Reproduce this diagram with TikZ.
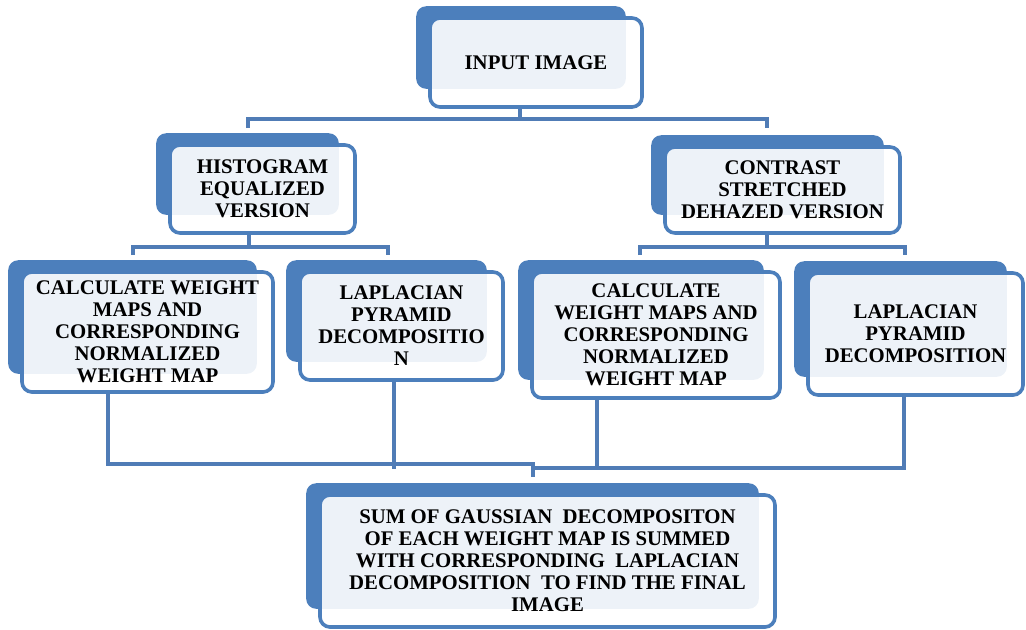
\documentclass[tikz,border=0pt]{standalone}
\usepackage{fontspec}
\setmainfont{Liberation Serif}
\usepackage{tikz}
\pgfdeclarelayer{back}
\pgfsetlayers{back,main}
\definecolor{panelblue}{RGB}{76,127,188}
\definecolor{linkblue}{RGB}{80,124,182}
\tikzset{
    box/.style={draw=panelblue, line width=1.8pt, rounded corners=5pt,
        fill=white, fill opacity=0.9, text opacity=1, inner sep=0pt,
        align=center, font=\fontsize{10.4}{11}\selectfont\bfseries},
    link/.style={draw=linkblue, line width=2pt}
}

\begin{document}
\begin{tikzpicture}[x=0.5pt,y=-0.5pt]
    \useasboundingbox (0,0) rectangle (1026,629);

    \node[box, minimum width=106pt, minimum height=44.5pt] (in) at (536,62.5) {INPUT IMAGE};
    \node[box, minimum width=92.5pt, minimum height=44pt] (he) at (262.5,189)
        {HISTOGRAM\\EQUALIZED\\VERSION};
    \node[box, minimum width=117.5pt, minimum height=43pt] (cs) at (782.5,190)
        {CONTRAST\\STRETCHED\\DEHAZED VERSION};
    \node[box, minimum width=125.5pt, minimum height=60pt] (cl) at (147.5,332)
        {CALCULATE WEIGHT\\MAPS AND\\CORRESPONDING\\NORMALIZED\\WEIGHT MAP};
    \node[box, minimum width=101.5pt, minimum height=54pt] (ll) at (401.5,326)
        {LAPLACIAN\\PYRAMID\\DECOMPOSITIO\\N};
    \node[box, minimum width=124pt, minimum height=63pt] (cr) at (656,335)
        {CALCULATE\\WEIGHT MAPS AND\\CORRESPONDING\\NORMALIZED\\WEIGHT MAP};
    \node[box, minimum width=107.5pt, minimum height=61pt] (lr) at (915.5,334)
        {LAPLACIAN\\PYRAMID\\DECOMPOSITION};
    \node[box, minimum width=227.5pt, minimum height=66pt] (sum) at (547.5,561)
        {SUM OF GAUSSIAN~ DECOMPOSITON\\OF EACH WEIGHT MAP IS SUMMED\\WITH CORRESPONDING~ LAPLACIAN\\DECOMPOSITION~ TO FIND THE FINAL\\IMAGE};

    % solid panels behind each box
    \begin{pgfonlayer}{back}
        \foreach \n in {in,he,cs,cl,ll,cr,lr,sum}
            \fill[panelblue, rounded corners=5pt]
                ([shift={(-12,-10)}]\n.north west) rectangle ([shift={(-18,-20)}]\n.south east);
    \end{pgfonlayer}

    % stub ends
    \coordinate (he-in) at (248,128);
    \coordinate (cs-in) at (767,128);
    \coordinate (cl-in) at (133,255);
    \coordinate (ll-in) at (388,255);
    \coordinate (cr-in) at (640,255);
    \coordinate (lr-in) at (905,255);
    \coordinate (sum-in) at (533,477);

    \draw[link] ([xshift=-8pt]in.south) -- ++(0,10) coordinate (top-bus);
    \draw[link] (he-in) |- (top-bus) -| (cs-in);

    \draw[link] ([xshift=-7pt]he.south) -- ++(0,12) coordinate (he-bus);
    \draw[link] (cl-in) |- (he-bus) -| (ll-in);

    \draw[link] ([xshift=-8pt]cs.south) -- ++(0,12) coordinate (cs-bus);
    \draw[link] (cr-in) |- (cs-bus) -| (lr-in);

    \draw[link] ([xshift=-20pt]cl.south) -- ++(0,70) -| (sum-in);
    \draw[link] ([xshift=-4pt]ll.south) -- ++(0,87);
    \draw[link] ([xshift=-29.5pt]cr.south) -- ++(0,68) coordinate (cr-bus);
    \draw[link] ([xshift=-6pt]lr.south) |- (sum-in |- cr-bus);
\end{tikzpicture}
\end{document}
